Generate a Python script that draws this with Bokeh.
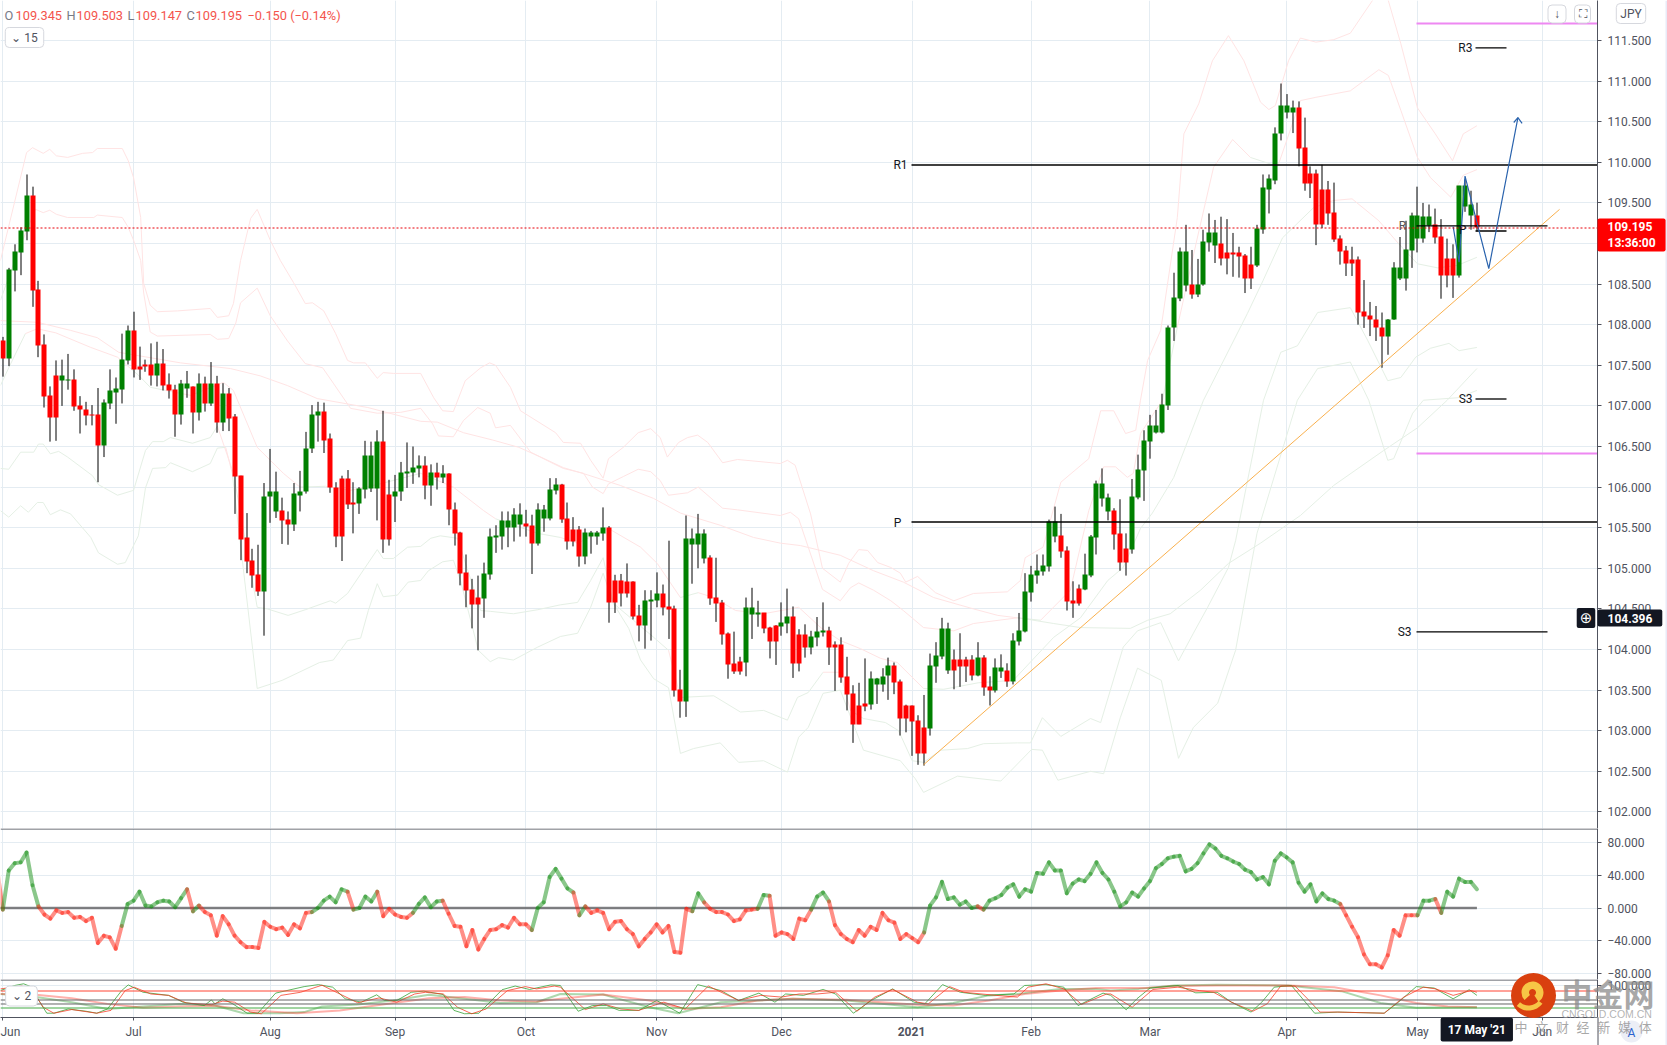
import math
from bokeh.plotting import figure
from bokeh.layouts import column
from bokeh.embed import file_html
from bokeh.resources import INLINE
from bokeh.models import Range1d, LinearAxis, FixedTicker, Grid, Label, Span, NumeralTickFormatter

# ---------- daily USD/JPY candles, 1 Jun 2020 -> 17 May 2021 ----------
opens = [107.81,107.58,108.67,108.89,109.15,109.59,108.43,107.75,107.13,107.38,
107.31,107.31,107.32,107.00,106.96,106.90,106.90,106.51,107.03,107.17,
107.20,107.56,107.93,107.49,107.51,107.51,107.37,107.52,107.26,107.20,
106.90,107.22,107.24,106.92,107.27,107.03,107.27,106.79,107.15,106.87,
106.14,105.38,105.09,104.92,104.71,105.88,105.70,105.71,105.60,105.54,
105.90,105.94,106.47,106.88,106.93,106.60,106.00,106.11,106.11,105.81,
105.80,105.97,105.98,105.98,106.56,105.91,105.89,105.94,106.17,106.18,
106.23,106.27,106.02,106.18,106.12,106.17,105.73,105.44,104.95,104.74,
104.64,104.63,104.92,105.38,105.39,105.50,105.50,105.54,105.55,105.53,
105.30,105.61,105.61,105.96,106.03,105.61,105.48,105.48,105.14,105.39,
105.39,105.43,105.50,104.85,104.85,104.84,104.84,104.42,104.30,104.59,
104.60,104.69,104.53,104.50,103.51,103.36,105.29,105.29,105.12,105.13,
104.64,104.58,104.20,103.83,103.85,103.84,104.43,104.43,104.45,104.27,
104.30,104.28,104.32,104.41,104.18,104.18,104.03,104.15,104.21,104.23,
104.06,104.06,103.67,103.46,103.31,103.33,103.32,103.57,103.57,103.68,
103.80,103.61,103.31,103.31,103.12,103.04,103.03,103.79,103.91,103.74,
103.88,103.88,103.88,103.88,103.68,103.90,103.54,103.49,103.73,103.74,
103.60,104.10,104.22,104.70,104.91,104.96,105.02,105.39,105.40,105.22,
104.60,104.75,104.74,104.91,105.38,105.86,105.70,105.71,105.43,105.24,
105.23,105.87,106.20,106.56,106.67,106.67,107.00,107.96,108.32,108.48,
108.49,108.37,108.49,109.01,108.98,109.00,108.89,108.89,108.89,108.85,
108.74,108.73,109.17,109.67,109.78,110.35,110.61,110.61,110.67,110.18,
109.86,109.86,109.67,109.67,109.38,109.06,108.91,108.80,108.80,108.16,
108.11,108.07,107.97,107.85,108.06,108.57,108.57,108.91,109.06,109.06,
109.22,109.23,109.09,108.82,108.82,108.61,109.46,109.35,109.345]
highs = [107.85,108.70,108.99,109.20,109.85,109.70,108.54,107.88,107.24,107.56,
107.57,107.64,107.45,107.12,107.05,107.01,107.22,107.08,107.45,107.35,
107.89,107.99,108.16,107.73,107.57,107.77,107.79,107.70,107.40,107.26,
107.32,107.43,107.24,107.40,107.36,107.54,107.37,107.28,107.22,106.90,
106.14,105.68,105.24,105.29,106.05,106.47,106.19,105.87,105.70,106.05,
106.20,106.68,107.01,107.05,107.04,106.66,106.06,106.14,106.21,106.06,
106.00,106.57,106.56,106.70,106.94,106.09,106.15,106.31,106.55,106.50,
106.39,106.38,106.28,106.30,106.27,106.17,105.81,105.45,105.17,104.87,
104.91,105.07,105.49,105.53,105.70,105.70,105.74,105.80,105.72,105.66,
105.80,105.78,106.11,106.11,106.04,105.81,105.63,105.52,105.49,105.46,
105.46,105.75,105.52,104.92,104.93,105.06,104.84,104.55,104.73,104.73,
104.95,104.80,105.34,104.54,103.75,105.65,105.49,105.67,105.48,105.16,
105.13,104.61,104.21,104.22,103.91,104.64,104.76,104.60,104.45,104.28,
104.30,104.58,104.75,104.53,104.25,104.31,104.23,104.40,104.58,104.28,
104.10,104.15,103.91,103.56,103.59,103.89,103.73,103.65,103.77,103.90,
103.84,103.63,103.32,103.31,103.19,103.44,103.95,104.09,104.39,104.33,
104.00,104.20,103.91,103.93,104.09,103.93,103.67,103.89,103.94,103.83,
104.20,104.45,104.94,105.03,105.17,105.17,105.60,105.76,105.67,105.27,
104.84,104.80,105.18,105.41,106.08,106.23,105.92,105.74,105.85,105.43,
106.10,106.40,106.70,106.89,106.95,107.15,107.99,108.64,108.95,109.23,
108.92,108.81,109.17,109.37,109.29,109.33,109.30,109.13,108.96,108.87,
108.96,109.23,109.85,109.85,110.43,110.97,110.84,110.76,110.75,110.55,
109.95,109.91,109.97,109.77,109.75,109.10,108.97,108.96,108.84,108.55,
108.28,108.23,108.15,108.07,108.77,109.08,109.28,109.38,109.70,109.50,
109.48,109.43,109.30,109.06,108.99,109.71,109.79,109.65,109.503]
lows = [107.36,107.49,108.41,108.61,109.04,108.22,107.60,106.98,106.56,106.57,
107.00,107.20,106.94,106.66,106.76,106.76,106.06,106.37,106.96,106.78,
107.03,107.51,107.35,107.32,107.42,107.25,107.24,107.19,107.09,106.62,
106.77,107.10,106.66,106.82,106.93,107.00,106.67,106.69,106.69,105.67,
105.10,104.94,104.76,104.66,104.17,105.56,105.62,105.30,105.29,105.46,
105.70,105.92,106.42,106.56,106.42,105.93,105.26,105.09,105.73,105.43,
105.67,105.86,105.94,105.59,105.19,105.28,105.57,105.83,105.99,106.04,
106.12,105.85,105.77,105.97,106.05,105.53,105.28,104.79,104.52,104.26,
103.99,104.39,104.86,105.19,105.23,105.26,105.33,105.39,105.39,104.93,
105.28,105.45,105.59,105.91,105.56,105.23,105.27,105.02,105.05,105.18,
105.29,105.34,104.33,104.45,104.53,104.64,104.37,104.10,104.01,104.11,
104.52,104.42,104.13,103.42,103.16,103.17,104.81,105.00,105.06,104.55,
104.34,104.06,103.64,103.70,103.69,103.67,104.13,104.28,104.20,103.89,
103.81,104.17,104.20,103.65,103.73,103.90,103.94,104.04,104.16,103.81,
103.49,103.59,103.25,102.85,103.08,103.24,103.26,103.33,103.48,103.38,
103.45,102.94,102.98,102.69,102.58,102.57,102.94,103.59,103.88,103.70,
103.51,103.54,103.60,103.62,103.67,103.43,103.31,103.47,103.65,103.54,
103.57,104.05,104.21,104.59,104.81,104.91,104.96,105.32,105.13,104.48,
104.39,104.54,104.73,104.89,105.17,105.76,105.59,105.23,104.97,104.91,
105.18,105.85,105.83,106.35,106.66,106.66,106.95,107.80,108.29,108.41,
108.32,108.34,108.48,108.90,108.76,108.73,108.62,108.59,108.58,108.39,
108.44,108.71,109.12,109.37,109.73,110.27,110.54,110.36,109.95,109.65,
109.56,108.98,109.19,109.23,109.02,108.74,108.60,108.60,108.00,107.96,
107.86,107.80,107.47,107.63,108.06,108.55,108.42,108.70,108.89,109.01,
109.14,109.00,108.32,108.46,108.33,108.58,109.39,109.17,109.147]
closes = [107.58,108.68,108.90,109.16,109.59,108.42,107.74,107.11,106.86,106.86,
107.38,107.32,106.99,106.95,106.88,106.88,106.51,107.04,107.19,107.21,
107.57,107.93,107.45,107.45,107.48,107.37,107.52,107.25,107.19,106.90,
107.28,107.28,106.92,107.27,107.03,107.27,106.79,107.15,106.85,106.13,
105.36,105.08,104.91,104.71,105.89,105.94,105.94,105.59,105.54,105.92,
105.95,106.48,106.89,106.93,106.58,105.99,105.39,105.39,105.78,105.78,
105.98,106.39,106.39,106.56,105.35,105.35,105.95,106.18,106.19,106.24,
106.26,106.02,106.18,106.12,106.17,105.72,105.43,104.93,104.73,104.55,
104.55,104.94,105.39,105.40,105.59,105.59,105.66,105.66,105.51,105.30,
105.73,105.73,105.97,106.03,105.60,105.33,105.33,105.14,105.44,105.44,
105.44,105.50,104.58,104.58,104.69,104.69,104.41,104.30,104.60,104.61,
104.69,104.52,104.49,103.49,103.36,105.37,105.37,105.43,105.43,104.63,
104.57,104.18,103.81,103.73,103.73,104.52,104.52,104.45,104.26,104.10,
104.10,104.33,104.41,103.83,103.83,104.03,104.16,104.22,104.23,104.03,
104.03,103.65,103.44,103.08,103.08,103.30,103.64,103.64,103.67,103.80,
103.59,103.15,103.15,103.11,102.72,102.72,103.80,103.93,104.26,104.26,
103.74,103.79,103.79,103.68,103.90,103.53,103.49,103.78,103.78,103.60,
104.11,104.23,104.71,104.92,104.97,105.03,105.58,105.58,105.21,104.59,
104.57,104.57,104.92,105.39,106.04,106.04,105.87,105.42,105.07,105.07,
105.88,106.22,106.57,106.76,106.76,107.02,107.97,108.33,108.90,108.90,
108.37,108.50,109.02,109.13,109.13,108.82,108.82,108.87,108.84,108.57,
108.57,109.18,109.69,109.80,110.36,110.70,110.70,110.67,110.17,109.74,
109.74,109.24,109.24,109.37,109.05,108.90,108.75,108.75,108.15,108.10,
108.06,107.96,107.85,108.07,108.70,108.70,108.93,109.35,109.35,109.33,
109.33,109.07,108.61,108.61,108.61,109.71,109.71,109.48,109.195]

# ---------- faint bands ----------
u1_i = [-0.4,4,5,6.8,7.9,9,10.9,13.4,15.1,15.9,20.1,21.1,22,23.2,23.7,24.8,26,29.4,34.9,36.1,38,38.8,40,41.7,42.8,45,46.7,48.9,50.9,52.1,54,56,58,59,61,63,64,65.7,70.3,72.5,74,75.8,77.8,80.4,81.9,82.9,85.4,87.1,93,94.3,97.2,98.9,101,101.9,104.4,106.9,109,110.6,111.8,113.7,115.2,116.9,118.6,121.1,123.6,130.8,132,133.3,135.9,137.9,140.9,142.3,144,145.5,147.2,149.4,151,151.9,153.9,156.9,160,163.3,169,171.2,172,175,178,182.7,184.7,186.9,188.9,190.6,191.4,192.6,194.8,197.6,198.7,201.2,203.5,206.2,208.8,211.6,213,214.1,216.3,218.3,220.9,223.9,226.7,230.4,231.8,233.1,235.2,238,241,243.9,245.7,248]
u1_p = [108.79,110.12,110.18,110.11,110.16,110.08,110.06,110.11,110.12,110.17,110.17,110.02,109.81,109.32,108.51,108.24,108.16,108.17,108.2,108.09,108.11,108.26,108.79,109.31,109.42,109.04,108.79,108.52,108.26,108.27,108.17,107.89,107.56,107.53,107.53,107.34,107.41,107.4,107.4,107.1,106.94,106.93,107.31,107.47,107.53,107.5,107.23,106.94,106.67,106.55,106.54,106.33,106.11,106.35,106.49,106.67,106.72,106.61,106.37,106.55,106.61,106.64,106.55,106.3,106.34,106.29,106.33,106.27,105.67,105,104.83,105.06,105.23,105.22,105.07,105.01,104.94,104.83,104.9,104.7,104.6,104.69,104.71,104.85,105.13,105.26,106.06,106.35,106.94,106.94,106.66,106.7,107.07,107.56,107.93,109.32,110.35,110.72,111.25,111.56,111.25,110.74,110.65,110.7,111.25,111.53,111.48,111.51,111.59,111.99,112.12,111.99,111.46,110.67,110.35,110.02,110.35,110.45]
u2_i = [-0.4,2.6,5.5,6.8,7.9,9,10.9,15.3,15.9,20.1,21.1,22,23.2,23.7,24.8,26,34.9,36.1,38,39.2,40,42.8,45,47.9,50.9,53.8,55.6,58.5,63,66.9,70.3,72.3,73.3,75.8,77.5,79.9,82,82.9,85.4,88.8,92.6,94.3,97.7,99.2,101,101.9,104.4,106.9,109,110.6,112,115.2,117,121.1,123.6,130.8,132.5,133.9,137.9,140.9,142.6,144,146.5,149.4,151.5,154.9,160,163.3,170.7,174.6,179.6,182.7,185.2,187.2,189.2,190.2,191.4,195.1,197.6,201,203.7,206.9,209.9,214.5,218.3,220.9,226.7,231.5,233.1,235.2,238,240.2,243.6,245.7,248]
u2_p = [108.3,108.91,109.42,109.38,109.41,109.36,109.32,109.32,109.35,109.32,109.2,109.04,108.79,108.39,107.91,107.86,107.88,107.82,107.83,108.02,108.27,108.45,108.11,107.8,107.52,107.47,107.28,106.97,106.91,106.92,106.97,106.78,106.63,106.62,106.82,106.98,106.91,106.73,106.76,106.43,106.29,106.23,106.17,106,105.92,106.04,106.13,106.22,106.19,106.08,105.9,105.93,106,105.74,105.72,105.65,105.69,105.61,104.74,104.6,104.76,104.82,104.73,104.6,104.48,104.27,104.23,104.32,104.39,104.36,104.73,105.71,106.25,106.25,106.12,106.17,106.66,107.07,107.97,109.08,109.94,110.28,110.06,109.95,110.76,110.8,110.88,111.14,111.07,110.64,110.06,109.81,109.57,109.84,109.91]
mid_i = [-0.4,1,3.8,5.8,8.9,14.8,19.3,21.5,22.8,24.8,27.4,31.6,35.8,37.1,38.8,42.8,47.2,50,54.3,58.5,63.5,70.3,75.8,80.9,82.9,90,93.8,96.7,101.9,107.3,110.1,114,117,119.6,123.3,128,133.9,137.6,140.9,144.3,147.7,150.5,154.9,158.3,164.1,170,176.8,181.3,185.9,188.5,191.4,193.4,197,202,209.4,212,215.3,220.5,223.9,227,231.5,234.8,238,241.4,244.7,248]
mid_p = [107.25,107.47,107.89,107.95,107.9,107.72,107.6,107.46,107.38,107.23,107.19,107.13,107.25,107.29,107.19,106.49,106.17,106,106.01,105.96,106.04,106.17,106,105.71,105.61,105.43,105.38,105.31,105.49,105.26,105.06,104.64,104.7,104.64,104.48,104.44,104.52,104.27,104.11,104.01,103.89,103.84,103.52,103.51,103.59,103.62,104.15,104.39,104.85,105.01,105.49,105.68,106.12,107.07,108.14,108.54,109.07,109.44,109.53,109.55,109.28,109,108.75,108.7,108.73,108.83]
long_i = [-0.4,5.8,11.4,15.9,19.5,29.9,38.3,43.3,47.9,52.9,61.4,70.3,73.1,77.5,82.4,86.8,90.5,94.3,98.4,103.9,109.5,114,120.7,126.3,130.8,134.2,140.9,146.5,151.5,156.6,163.3,167.4,170.7,172.6,176.8,181.3,189.7,192.6,196.4,201.5,206.2,211.6,218.3,223.9,232.3,238,243,248]
long_p = [108.05,108.03,107.93,107.84,107.66,107.53,107.46,107.37,107.25,107.09,106.98,106.81,106.8,106.67,106.58,106.49,106.37,106.24,106.15,106.02,105.86,105.68,105.53,105.38,105.31,105.28,105.16,104.97,104.83,104.64,104.5,104.42,104.39,104.37,104.32,104.27,104.26,104.36,104.44,104.73,105.06,105.31,105.65,106.02,106.45,106.73,107.07,107.46]
l1_i = [-0.4,1,3,5.2,6,6.8,8,9.4,10.9,15.1,16.1,19.3,22,24,25.2,27,28.2,31.9,34.9,36.1,38.8,42.8,44.5,48,50.9,55.1,56,58,63,64,65.7,68.1,70.3,72,73.6,76.5,80.4,82,85.9,90,93.8,96.7,98.9,101,102.7,109.5,112,114,119.6,124.1,128,132,133.7,135.5,138,140.9,142.6,144.8,148.5,150.7,153,154.9,157.8,162.3,165,170.7,172.9,174.9,178,183,184.7,188.5,190.9,194.8,197.8,200.3,202.7,206.2,207.4,212.1,215,217.8,221.2,226.7,229.6,233,235.2,237.7,240.2,243.3,245,248]
l1_p = [106.23,106.22,106.43,106.43,106.53,106.53,106.41,106.44,106.37,106.14,106.03,105.9,105.96,106.45,106.56,106.56,106.61,106.54,106.61,106.75,106.17,104.52,104.5,104.42,104.49,104.6,104.57,104.69,105.23,105.12,105.12,105.26,105.27,105.37,105.4,105.37,104.48,104.47,104.44,104.49,104.55,104.58,104.85,105.13,104.57,104.15,103.99,103.41,103.43,103.23,103.25,103.13,103.41,103.47,103.72,103.72,103.25,103.15,103.1,103,102.63,102.61,102.76,102.78,102.84,102.85,102.85,103.16,102.93,103.15,103.1,104.03,104.23,104.33,103.86,104.2,104.52,105.01,105.34,107.07,107.66,107.74,108.15,108.21,107.81,107.31,107.35,107.6,107.71,107.77,107.68,107.72]
l2_i = [-0.4,1,3,4.3,5.8,6.8,8,9.7,11.4,14.8,16.1,19.3,20.6,22.8,24,25.2,27.4,28.2,31.9,34.9,36.1,37.5,38.6,42.8,47,53.3,55.6,58,60.2,61.5,63,64,66.4,68.2,70.3,71.6,74,75.8,77,80,82,83.4,85.9,90,93.8,96.7,98.9,101,102.7,105.3,107.3,109.5,112,114,116.2,120.7,123.8,128,132,133.9,135.5,138,140.9,144.8,151,153.5,154.9,160.6,167.9,173.1,174.9,177.5,183,185.2,188,190.9,194.9,197.8,200.3,204.4,207.4,211,217.8,221.2,226.7,229.8,233,234,237.2,239,244.7,248]
l2_p = [105.71,105.63,105.77,105.69,105.81,105.81,105.66,105.72,105.67,105.38,105.19,105.05,105.07,105.4,105.99,106.23,106.24,106.3,106.19,106.29,106.48,106.49,106.17,103.52,103.62,103.84,103.87,104.11,104.14,104.48,104.81,104.65,104.67,104.83,104.85,104.97,105.08,105.1,104.85,103.99,103.85,103.9,103.87,104.03,104.16,104.2,104.52,104.94,104.57,104.26,103.87,103.64,103.53,102.72,102.78,102.85,102.61,102.63,102.49,102.92,103.04,103.46,103.5,102.76,102.63,102.41,102.24,102.44,102.38,102.77,102.76,102.39,102.5,102.47,103.16,103.77,103.62,102.66,103.04,103.34,103.99,105.43,107.07,107.46,107.54,107.07,106.33,106.35,106.91,107.07,107.1,107.19]

# ---------- CCI (starts one bar before the first candle) ----------
cci = [50,
-2,46,55,56,68,28,2,-8,-13,-3,
-6,-5,-12,-11,-16,-12,-43,-34,-36,-50,
-22,5,9,20,3,2,7,9,8,1,
12,23,-4,3,-5,-9,-34,-10,-20,-34,
-42,-48,-48,-49,-17,-23,-26,-24,-33,-20,
-25,-6,-5,0,9,14,7,23,20,-2,
0,14,8,20,-10,-1,-8,-11,-12,-6,
5,13,1,8,9,-7,-22,-23,-47,-27,
-51,-38,-27,-26,-21,-24,-12,-20,-20,-27,
0,7,38,48,36,24,19,-9,2,-6,
-3,-6,-26,-17,-16,-26,-32,-47,-38,-30,
-20,-30,-22,-54,-55,-1,-4,18,7,-1,
-5,-5,-8,-16,-14,-3,-2,-1,16,15,
-34,-30,-32,-38,-13,-15,-2,14,19,8,
-21,-32,-38,-42,-27,-34,-23,-27,-6,-15,
-18,-38,-32,-37,-42,-30,3,13,32,11,
13,4,8,0,2,-2,9,12,16,25,
29,14,23,20,43,42,56,46,46,18,
30,35,33,42,56,43,35,20,2,7,
19,14,24,33,49,54,61,63,64,45,
48,55,67,78,73,64,61,57,54,47,
44,35,38,29,58,67,62,56,31,20,
29,8,18,11,9,5,-9,-23,-36,-57,
-69,-69,-73,-58,-27,-34,-9,-9,-9,9,
9,11,-6,20,14,36,32,32,23]
cci_switch = [0,6,20,31,32,33,52,58,59,63,69,74,89,96,97,98,116,118,127,129,136,139,155,164,165,225,238,241,242]

# ---------- stochastics ----------
fk_i = [-0.4,2,3.5,4.7,5.9,7.4,8.6,11,14,15.8,17.6,20,21.1,23.6,27.9,30.3,33.9,35.1,35.7,37,38.7,41.1,42.9,45.9,50.7,53.1,55.5,57.6,60.3,62.9,64.2,66.3,68.7,70.8,74.1,75.9,77.7,80.1,84,86.2,88.6,92.2,93.8,96.8,99.2,101.6,103.7,107,110,113.9,116.9,120.8,123.8,127.2,129.9,131.7,134.7,138,140.1,143.1,146.1,149.7,153.3,155.1,158.1,161.1,165.3,170.1,171.9,175.5,178.5,180.9,185.1,186.4,189,190.8,193,197.7,200.7,204.3,206.7,210,211.8,213.9,216.8,218.9,220.7,224.6,232.4,234.8,237.8,240.8,244,246.7,248]
fk_v = [81,99,105,95,52,1,1,16,8,1,16,81,101,75,64,40,28,48,34,52,34,1,1,72,95,102,93,52,40,66,46,46,75,79,67,11,-1,1,84,97,85,101,99,8,28,28,11,11,46,1,102,81,46,72,40,69,64,85,69,1,46,87,40,34,102,75,64,69,99,102,93,28,72,64,13,52,90,99,73,75,40,5,40,93,99,46,1,5,1,40,95,90,52,84,64]
fd_i = [-0.4,3.2,5,6.8,8.6,11.6,15.8,18.2,20.6,22.1,24.9,27.9,30.9,35.1,37,39,41.7,43.5,46.8,50.1,53.7,56.7,59.7,63.3,66.3,69.3,71.1,74.1,76.5,78.9,81.3,84.9,87.9,89.8,92.8,93.8,98,101,104,107,111.2,114.8,118.7,123.8,127.5,131,134,137,140.1,143.7,146.7,149.7,153.9,155.7,159.3,161.7,167.1,170.7,172.5,175.5,178.5,181.5,185.7,186.4,190,192,193.5,197.7,201.3,203.7,206.7,210.3,212.7,215,217.4,219.5,221.6,224.6,232.4,235.7,239,241.1,244,247,248]
fd_v = [87,97,81,22,1,14,1,11,81,93,69,64,37,31,44,40,5,-1,64,75,100,69,38,55,40,69,75,69,22,-1,16,81,95,87,97,93,14,34,16,11,40,16,97,46,64,58,69,69,75,8,58,85,40,34,95,75,64,58,93,105,87,32,69,69,22,58,85,93,81,75,40,8,34,97,97,52,5,5,1,58,93,87,64,81,75]
sk_i = [-0.4,5.6,11.6,17.6,23.6,29.7,35.7,40.5,46.5,50.7,53.7,59.7,65.7,71.7,77.7,83.7,89.8,93.8,101,108.8,113.6,120.8,126.9,132.9,141.9,147.9,153.9,159.9,165.9,170.7,177.9,183.9,186.4,191.1,197.1,204.3,216.2,225.2,231.8,237.8,248]
sk_v = [69,58,40,16,25,34,28,1,1,5,25,32,46,66,52,37,40,69,67,22,1,40,46,52,46,34,22,37,64,69,87,87,81,87,99,102,99,79,37,20,22]
sd_i = [-0.4,5.6,11.6,17.6,23.6,29.7,35.7,41.7,49.5,56.7,65.7,71.7,77.7,83.7,89.8,93.8,101,108.8,114.8,120.8,126.9,132.9,141.9,153.9,159.9,165.9,171.9,177.9,183.9,186.4,192.3,197.1,204.3,216.2,224,231.8,237.8,243.1,248]
sd_v = [69,66,54,34,20,25,27,11,1,11,37,54,58,46,42,52,67,46,16,22,46,52,49,31,28,46,69,81,90,90,90,97,99,99,93,64,37,25,22]
stoch_levels = [79.5, 47.7, 33.6, 19.4]

# ---------- drawn levels and scenario ----------
long_levels = [109.967, 105.570]
short_levels = [111.408, 109.154, 107.085]
mid_levels = [109.216, 104.216]
pink_levels = [111.709, 106.414]
trend_i = [154.9, 261.9]
trend_p = [102.58, 109.42]
scenario_i = [244.0, 245.0, 246.0, 250.0, 254.9]
scenario_p = [109.21, 108.77, 109.83, 108.69, 110.55]
arrow_i = [254.2, 254.9, 255.6]
arrow_p = [110.49, 110.55, 110.48]

month_ticks = [0.03, 22, 45, 66, 88, 110, 131, 153, 173, 193, 216, 238, 259]
month_names = ["Jun", "Jul", "Aug", "Sep", "Oct", "Nov", "Dec", "", "Feb", "Mar", "Apr", "May", "Jun"]
price_ticks = [102 + 0.5 * k for k in range(21)]
cci_ticks = [80, 40, 0, -40, -80]

# ---------- layout helpers (pixel -> scale) ----------
DX, X0 = 5.944, 2.3
def xs(px): return (px - X0) / DX
def my(py): return 111.5 - (py - 40) / 81.2
def mpx(p): return 40 + (111.5 - p) * 81.2
def cy(py): return (907.5 - py) / 0.815
def sy(py): return (1013 - py) / 0.283

FONT = "Roboto"
AX = "#50535e"
GRID = "#e4ecf2"
x_range = Range1d(xs(0), xs(1597))

def make(h, yr, bottom=0):
    return figure(width=1667, height=h + bottom, x_range=x_range, y_range=Range1d(*yr),
                  x_axis_type=None, y_axis_type=None, tools="", toolbar_location=None,
                  output_backend="svg", min_border_left=0, min_border_right=70,
                  min_border_top=0, min_border_bottom=bottom, outline_line_color=None,
                  background_fill_color="white")

def grids(p, yticks):
    p.add_layout(Grid(dimension=0, ticker=FixedTicker(ticks=month_ticks), grid_line_color=GRID, grid_line_width=1))
    p.add_layout(Grid(dimension=1, ticker=FixedTicker(ticks=yticks), grid_line_color=GRID, grid_line_width=1))

def raxis(p, ticks, overrides=None):
    ax = LinearAxis(ticker=FixedTicker(ticks=ticks), formatter=NumeralTickFormatter(format="0.000"),
                    axis_line_color=AX, major_tick_line_color=AX, major_tick_out=4, major_tick_in=0,
                    minor_tick_line_color=None, major_label_text_color=AX,
                    major_label_text_font=FONT, major_label_text_font_size="12px",
                    major_label_standoff=6)
    if overrides:
        ax.major_label_overrides = overrides
    p.add_layout(ax, "right")

# ===================== main pane =====================
main = make(828, (my(828), my(0)))
grids(main, price_ticks)
raxis(main, price_ticks)

def band_segments(ix, px):
    xx, yy, cc = [], [], []
    for k in range(len(ix) - 1):
        bar = min(248, max(0, round(ix[k + 1])))
        xx.append([ix[k], ix[k + 1]])
        yy.append([px[k], px[k + 1]])
        cc.append("#ffe4e4" if px[k + 1] > closes[bar] else "#e5f0e5")
    return xx, yy, cc

for ix, px in [(u1_i, u1_p), (u2_i, u2_p), (mid_i, mid_p), (long_i, long_p), (l1_i, l1_p), (l2_i, l2_p)]:
    xx, yy, cc = band_segments(ix, px)
    main.multi_line(xx, yy, line_color=cc, line_width=1)

# candles are snapped to whole pixels, as the reference's are
idx = list(range(len(closes)))
wick_x = [xs(math.floor(X0 + DX * i) + 0.5) for i in idx]
main.segment(wick_x, lows, wick_x, highs, line_color="black", line_width=1)
body_bottom, body_top = [], []
for o, c in zip(opens, closes):
    t = round(mpx(max(o, c)))
    b = max(t + 1, round(mpx(min(o, c))))
    body_top.append(my(t))
    body_bottom.append(my(b))
body_col = ["#008000" if c >= o else "#ff0000" for o, c in zip(opens, closes)]
main.vbar(wick_x, 5 / DX, body_bottom, body_top, fill_color=body_col, line_color=None)

main.line(trend_i, trend_p, line_color="#f9b04e", line_width=1)
for lvl in long_levels:
    main.line([xs(911), xs(1597)], [lvl, lvl], line_color="black", line_width=1.3)
for lvl in short_levels:
    main.line([xs(1475), xs(1506)], [lvl, lvl], line_color="black", line_width=1.3)
for lvl in mid_levels:
    main.line([xs(1416), xs(1547)], [lvl, lvl], line_color="black", line_width=1.3)
for lvl in pink_levels:
    main.line([xs(1416), xs(1597)], [lvl, lvl], line_color="#ee88f2", line_width=2)
main.line(scenario_i, scenario_p, line_color="#2a63ad", line_width=1.2)
main.line(arrow_i, arrow_p, line_color="#2a63ad", line_width=1.2)
main.add_layout(Span(location=my(227.5), dimension="width", line_color="#e8000b", line_width=1, line_dash="2 2"))

# ===================== CCI pane =====================
cp = make(151, (cy(979), cy(828)))
grids(cp, cci_ticks)
raxis(cp, cci_ticks, {80: "80.000", 40: "40.000", 0: "0.000", -40: "\u221240.000", -80: "\u221280.000"})
cp.add_layout(Span(location=cy(828.5), dimension="width", line_color="#434651", line_width=1))
cp.line([-1, 248], [0, 0], line_color="#a8aaaf", line_width=3, line_alpha=0.7)
cp.line([-1, 248], [0, 0], line_color="#3a3a3a", line_width=1)

cx = [k - 1 for k in range(len(cci))]
ax, ay, ac = [], [], []
red = True
for k in range(len(cci) - 1):
    if cx[k] in cci_switch:
        red = not red
    ax.append([cx[k], cx[k + 1]])
    ay.append([cci[k], cci[k + 1]])
    ac.append("#ff2010" if red else "#169016")
cp.multi_line(ax, ay, line_color=ac, line_width=4, line_alpha=0.5, line_cap="round", line_join="round")

# ===================== stochastic pane =====================
sp = make(38, (sy(1017), sy(979)), bottom=28)
grids(sp, [100])
raxis(sp, [100])
xax = LinearAxis(ticker=FixedTicker(ticks=month_ticks),
                 major_label_overrides=dict(zip(month_ticks, month_names)),
                 axis_line_color=AX, major_tick_line_color=AX, major_tick_out=3, major_tick_in=0,
                 minor_tick_line_color=None, major_label_text_color=AX,
                 major_label_text_font=FONT, major_label_text_font_size="12px", major_label_standoff=4)
sp.add_layout(xax, "below")
sp.add_layout(Span(location=sy(979.5), dimension="width", line_color="#434651", line_width=1))
level_cols = ["#ff4433", "#666666", "#666666", "#44aa44"]
for lvl, c in zip(stoch_levels, level_cols):
    sp.add_layout(Span(location=lvl, dimension="width", line_color=c, line_width=1))
sp.line(sk_i, sk_v, line_color="#169016", line_width=2, line_alpha=0.35)
sp.line(sd_i, sd_v, line_color="#ff2010", line_width=2, line_alpha=0.35)
sp.line(fk_i, fk_v, line_color="#2c9e2c", line_width=1, line_alpha=0.75)
sp.line(fd_i, fd_v, line_color="#f5361f", line_width=1, line_alpha=0.75)

# ===================== overlay page: texts, tags, buttons, watermark (page pixels) =====================
ov = figure(width=1667, height=1045, x_range=Range1d(0, 1667), y_range=Range1d(1045, 0),
            x_axis_type=None, y_axis_type=None, tools="", toolbar_location=None, output_backend="svg",
            min_border=0, outline_line_color=None, background_fill_alpha=0, border_fill_alpha=0,
            styles={"position": "absolute", "left": "0px", "top": "0px", "pointer-events": "none"})

def label(x, y, text, color="#131722", size=12, align="left", bold=False, font=FONT, **kw):
    ov.add_layout(Label(x=x, y=y, text=text, text_color=color, text_font=font, text_font_size=f"{size}px",
                        text_align=align, text_baseline="middle",
                        text_font_style="bold" if bold else "normal", **kw))

# page's lavender right edge
ov.quad(left=[1665], right=[1667], top=[0], bottom=[1045], fill_color="#e9eaf7", line_color=None)

# level names
label(900, 164.5, "R1", align="center")
label(897, 522, "P", align="center")
label(1472, 47, "R3", align="right")
label(1472, 398, "S3", align="right")
label(1411, 631, "S3", align="right")
label(1402, 225, "R", align="center", color="#555555")
label(1462, 229, "P", align="center")

# OHLC header
GREY, RED = "#787b86", "#f4544c"
header = [(4, "O", GREY), (15, "109.345", RED), (66, "H", GREY), (76, "109.503", RED),
          (127, "L", GREY), (135, "109.147", RED), (186, "C", GREY), (195, "109.195", RED),
          (247, "\u22120.150 (\u22120.14%)", RED)]
for px, t, c in header:
    label(px, 14.5, t, color=c, size=12.8)

BTN = dict(background_fill_color="white", border_line_color="#d6d8de", border_radius=4)
label(24, 37, "\u2304 15", align="center", color=AX, padding=(6, 3), **BTN)
label(1556.5, 13.5, "\u2193", align="center", color=AX, padding=(6, 2), **BTN)
label(1582, 13.5, "\u26f6", align="center", color=AX, padding=(4, 2), font="DejaVu Sans", **BTN)
label(1630.5, 13, "JPY", align="center", color=AX, padding=(4, 3), **BTN)

label(1597, 234.5, "109.195\n13:36:00", color="white", bold=True,
      background_fill_color="#ff0000", padding=(10, 1), border_radius=2)
label(1597, 617.5, "104.396", color="white", bold=True,
      background_fill_color="#131722", padding=(10, 4), border_radius=2)
label(1585.5, 617.5, "\u2295", color="white", size=15, align="center", font="DejaVu Sans",
      background_fill_color="#131722", padding=(3, 1), border_radius=2)

label(911, 1030.5, "2021", color=AX, align="center", bold=True)
label(21, 995.5, "\u2304 2", align="center", color=AX, padding=(6, 3), **BTN)
label(1476.3, 1029, "17 May '21", color="white", bold=True, align="center",
      background_fill_color="#131722", padding=(7, 5), border_radius=2)

# right axis line runs on through the time scale
ov.segment([1597.5], [1017], [1597.5], [1045], line_color=AX, line_width=1)

# watermark
ov.scatter([1631], [1031], size=22, marker="circle", fill_color="#eceef6", line_color=None)
label(1631, 1032, "A", color="#2a62d0", align="center")
ov.scatter([1533], [995], size=45, marker="circle", fill_color="#d9400f", line_color=None)
ov.annular_wedge([1532], [992], inner_radius=3.5, outer_radius=11, inner_radius_units="screen",
                 outer_radius_units="screen", start_angle=-1.0, end_angle=3.9, fill_color="#f7c646", line_color=None)
ov.annular_wedge([1528], [992], inner_radius=13, outer_radius=18, inner_radius_units="screen",
                 outer_radius_units="screen", start_angle=4.0, end_angle=5.6, fill_color="#f7c646", line_color=None)
label(1561, 992, "\u4e2d\u91d1\u7f51", color="#8c8c8c", size=31, bold=True, font="Noto Sans CJK SC", text_alpha=0.75)
label(1561, 1013, "CNGOLD.COM.CN", color="#9a9a9a", size=10.5, font="Liberation Sans", text_alpha=0.75)
for k, ch in enumerate("\u4e2d\u6587\u8d22\u7ecf\u65b0\u5a92\u4f53"):
    label(1514 + 20.7 * k, 1026, ch, color="#8c8c8c", size=13, font="Noto Sans CJK SC", text_alpha=0.75)

panes = column(main, cp, sp, spacing=0)
root = column(panes, ov, spacing=0, styles={"position": "absolute", "left": "0px", "top": "0px"})
open("out.html", "w").write(file_html(root, INLINE))
